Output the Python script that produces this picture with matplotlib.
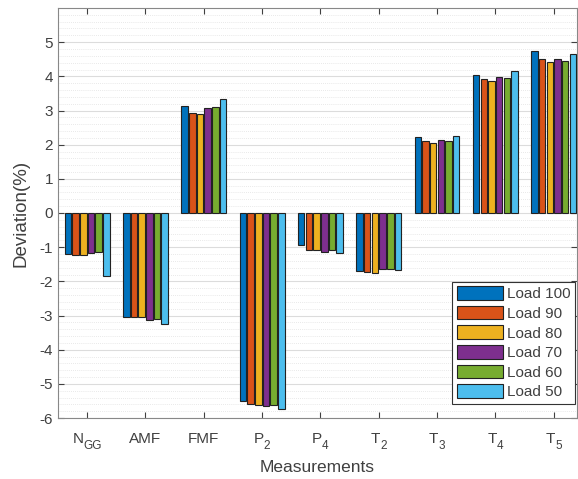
import numpy as np
import matplotlib.pyplot as plt
import matplotlib.transforms as mtransforms
from matplotlib.ticker import MultipleLocator

plt.rcParams['font.family'] = ['Liberation Sans', 'DejaVu Sans']
plt.rcParams['axes.unicode_minus'] = False

# data
cat_main = ['N', 'AMF', 'FMF', 'P', 'P', 'T', 'T', 'T', 'T']
cat_sub = ['GG', '', '', '2', '4', '2', '3', '4', '5']
series_names = ['Load 100', 'Load 90', 'Load 80', 'Load 70', 'Load 60', 'Load 50']

load100 = [-1.20, -3.03, 3.13, -5.49, -0.95, -1.70, 2.22, 4.05, 4.74]
load90 = [-1.23, -3.05, 2.93, -5.59, -1.07, -1.72, 2.10, 3.93, 4.52]
load80 = [-1.23, -3.05, 2.91, -5.61, -1.09, -1.76, 2.05, 3.87, 4.41]
load70 = [-1.18, -3.12, 3.06, -5.66, -1.14, -1.65, 2.14, 3.98, 4.50]
load60 = [-1.15, -3.09, 3.10, -5.63, -1.07, -1.65, 2.12, 3.95, 4.45]
load50 = [-1.84, -3.26, 3.34, -5.75, -1.16, -1.68, 2.26, 4.17, 4.64]

colors = ['#0072BD', '#D95319', '#EDB120', '#7E2F8E', '#77AC30', '#4DBEEE']
text_col = '#404040'

fig = plt.figure(figsize=(5.78, 4.79), dpi=100)
ax = fig.add_axes([58 / 578, 1 - 418 / 479, (577 - 58) / 578, (418 - 8) / 479])

x = np.arange(1, len(cat_main) + 1)
step = 0.1316
all_series = [load100, load90, load80, load70, load60, load50]
for i, (vals, name) in enumerate(zip(all_series, series_names)):
    ax.bar(x + (i - 2.5) * step, vals, width=0.112, color=colors[i],
           edgecolor='#222222', linewidth=0.8, label=name, zorder=3)

ax.set_xlim(0.5, 9.4)
ax.set_ylim(-6, 6)
ax.set_xticks(x)
ax.set_xticklabels([''] * len(x))
ax.set_yticks(np.arange(-6, 6))
ax.yaxis.set_minor_locator(MultipleLocator(0.2))

ax.yaxis.grid(True, which='major', color='#dcdcdc', linewidth=0.8, zorder=0)
ax.yaxis.grid(True, which='minor', color='#e2e2e2', linestyle=(0, (1, 1.5)), linewidth=0.6, zorder=0)
ax.set_axisbelow(True)

ax.tick_params(which='both', direction='in', top=True, right=True, colors=text_col,
               labelsize=11, length=4)
ax.tick_params(which='minor', length=0)
for s in ax.spines.values():
    s.set_color('#888888')
    s.set_linewidth(0.8)

# x tick labels with MATLAB-like subscripts
trans = mtransforms.blended_transform_factory(ax.transData, ax.transAxes)
base_y = -(443 - 418) / 410
renderer = fig.canvas.get_renderer()
for xi, m, sb in zip(x, cat_main, cat_sub):
    tm = ax.text(xi, base_y, m, transform=trans, ha='left', va='baseline',
                 fontsize=11, color=text_col)
    wm = tm.get_window_extent(renderer).width
    ws = 0
    if sb:
        ts = ax.text(xi, base_y, sb, transform=trans, ha='left', va='baseline',
                     fontsize=8.5, color=text_col)
        ws = ts.get_window_extent(renderer).width
    total = wm + ws
    tm.set_transform(trans + mtransforms.ScaledTranslation(-total / 2 / 100, 0, fig.dpi_scale_trans))
    if sb:
        ts.set_transform(trans + mtransforms.ScaledTranslation((-total / 2 + wm) / 100, -6 / 100,
                                                               fig.dpi_scale_trans))

ax.set_xlabel('Measurements', fontsize=12.5, color=text_col, labelpad=27)
ax.set_ylabel('Deviation(%)', fontsize=13.5, color=text_col)
ax.yaxis.set_label_coords(-(58 - 30) / 519, 0.5)

leg = ax.legend(loc='lower right', fontsize=11, frameon=True, fancybox=False,
                edgecolor='#333333', framealpha=1, borderpad=0.3, labelspacing=0.3,
                handlelength=3.0, handleheight=1.0, handletextpad=0.25,
                borderaxespad=0, bbox_to_anchor=(0.996, 0.034))
for t in leg.get_texts():
    t.set_color(text_col)
leg.get_frame().set_linewidth(0.8)

plt.savefig('out.png', dpi=100)
